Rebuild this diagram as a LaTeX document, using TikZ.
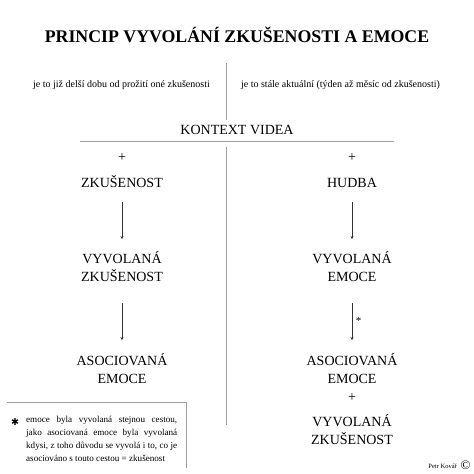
\documentclass[tikz,border=0pt]{standalone}
\usepackage{fontspec}
\setmainfont{Liberation Serif}
\newfontfamily\dejavu{DejaVu Sans}
\usetikzlibrary{arrows.meta}
\begin{document}
\begin{tikzpicture}[x=1pt,y=-1pt,
  lbl/.style={inner sep=0pt, font=\fontsize{14}{18}\selectfont, align=center},
  single/.style={lbl, text height=12.6pt, text depth=0pt},
  small/.style={inner sep=0pt, font=\fontsize{10}{12}\selectfont},
  grayline/.style={draw=black!38, line width=0.9pt},
  arr/.style={draw=black!80, line width=0.7pt, -{Stealth[length=3.2pt,width=3pt]}}]
\useasboundingbox (0,0) rectangle (474,474);
\fill[white] (0,0) rectangle (474,474);
% title
\node[inner sep=0pt, font=\fontsize{17.8}{20}\selectfont\bfseries] (title) at (237,35) {PRINCIP VYVOLÁNÍ ZKUŠENOSTI A EMOCE};
% top divider
\coordinate (t1) at (226,63);
\coordinate (t2) at (226,120);
\draw[grayline] (t1) -- (t2);
\node[small] (noteL) at (121.5,85) {je to již delší dobu od prožití oné zkušenosti};
\node[small] (noteR) at (340.5,85) {je to stále aktuální (týden až měsíc od zkušenosti)};
% context
\node[inner sep=0pt, font=\fontsize{14}{16}\selectfont] (ctx) at (237,130) {KONTEXT VIDEA};
\coordinate (h1) at (80,141);
\coordinate (h2) at (394,141);
\draw[grayline] (h1) -- (h2);
\coordinate (c1) at (226,147);
\coordinate (c2) at (226,425);
\draw[grayline] (c1) -- (c2);
% left column
\node[lbl] (plusL) at (122,158) {+};
\node[single] (zkL) at (122,181.5) {ZKUŠENOST};
\node[lbl] (vyvL) at (122,266.5) {VYVOLANÁ\\ZKUŠENOST};
\node[lbl] (asoL) at (122,368.5) {ASOCIOVANÁ\\EMOCE};
\draw[arr, shorten <=14pt, shorten >=12pt] (zkL.south) -- (vyvL.north);
\draw[arr, shorten <=21pt, shorten >=13pt] (vyvL.south) -- (asoL.north);
% right column
\node[lbl] (plusR) at (352,158) {+};
\node[single] (hudba) at (352,181.5) {HUDBA};
\node[lbl] (vyvR) at (352,266.5) {VYVOLANÁ\\EMOCE};
\node[lbl] (asoR) at (352,368.5) {ASOCIOVANÁ\\EMOCE};
\node[lbl] (plus2) at (352,398) {+};
\node[lbl] (vyvZ) at (352,429.5) {VYVOLANÁ\\ZKUŠENOST};
\draw[arr, shorten <=14pt, shorten >=12pt] (hudba.south) -- (vyvR.north);
\draw[arr, shorten <=21pt, shorten >=13pt] (vyvR.south) -- node[right, inner sep=3.5pt, font=\fontsize{11}{12}\selectfont, yshift=-3pt] (ast) {*} (asoR.north);
% footnote box
\coordinate (b1) at (7,402);
\coordinate (b2) at (186,402);
\coordinate (b3) at (186,468);
\draw[grayline] (b1) -- (b2) -- (b3);
\node[inner sep=0pt, font=\dejavu\fontsize{9.5}{10}\selectfont] (star) at (15,422) {✱};
\node[anchor=north west, inner sep=0pt, font=\fontsize{9.1}{13}\selectfont, align=left] (fn) at (26,415.5)
 {\makebox[151pt][s]{emoce byla vyvolaná stejnou cestou,}\\
  \makebox[151pt][s]{jako asociovaná emoce byla vyvolaná}\\
  \makebox[151pt][s]{kdysi, z toho důvodu se vyvolá i to, co je}\\
  asociováno s touto cestou = zkušenost};
% signature
\node[inner sep=0pt, font=\fontsize{6.5}{8}\selectfont, anchor=east] (sig) at (457,466) {Petr Kovář};
\node[inner sep=0pt, font=\fontsize{13}{14}\selectfont] (copy) at (465.5,465) {©};
\end{tikzpicture}
\end{document}
